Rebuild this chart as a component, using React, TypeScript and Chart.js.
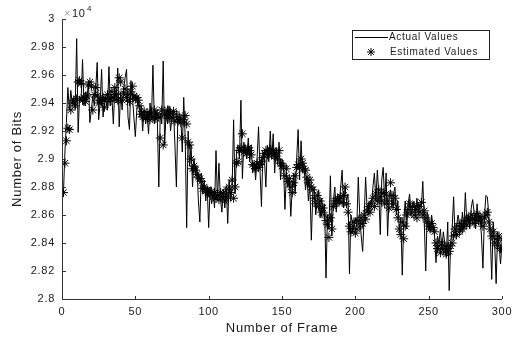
import React, { useEffect, useRef } from 'react';
import { Chart, registerables } from 'chart.js';

Chart.register(...registerables);

const seriesLabels: string[] = ['Actual Values', 'Estimated Values'];
const xTitle = 'Number of Frame';
const yTitle = 'Number of Bits';
const yExponent = '4';

const actualValues: number[] = [
  2.876, 2.905, 2.926, 2.951, 2.935, 2.949, 2.940, 2.944, 2.936, 2.986,
  2.919, 2.945, 2.941, 2.971, 2.938, 2.948, 2.942, 2.955, 2.926, 2.935,
  2.945, 2.938, 2.950, 2.969, 2.928, 2.940, 2.964, 2.930, 2.944, 2.941,
  2.935, 2.966, 2.938, 2.945, 2.925, 2.950, 2.940, 2.965, 2.923, 2.948,
  2.935, 2.950, 2.958, 2.964, 2.930, 2.921, 2.956, 2.945, 2.930, 2.916,
  2.935, 2.945, 2.930, 2.938, 2.920, 2.935, 2.925, 2.932, 2.918, 2.940,
  2.928, 2.967, 2.925, 2.935, 2.928, 2.880, 2.933, 2.925, 2.970, 2.910,
  2.935, 2.925, 2.938, 2.920, 2.930, 2.935, 2.910, 2.880, 2.930, 2.925,
  2.930, 2.905, 2.944, 2.915, 2.851, 2.920, 2.895, 2.910, 2.880, 2.900,
  2.888, 2.895, 2.870, 2.855, 2.890, 2.875, 2.885, 2.870, 2.880, 2.851,
  2.880, 2.868, 2.876, 2.865, 2.906, 2.870, 2.897, 2.872, 2.862, 2.878,
  2.865, 2.880, 2.854, 2.885, 2.870, 2.880, 2.928, 2.875, 2.905, 2.910,
  2.900, 2.942, 2.886, 2.912, 2.905, 2.900, 2.915, 2.898, 2.910, 2.890,
  2.898, 2.885, 2.900, 2.923, 2.892, 2.866, 2.905, 2.900, 2.880, 2.910,
  2.898, 2.920, 2.900, 2.918, 2.890, 2.908, 2.896, 2.912, 2.885, 2.900,
  2.896, 2.864, 2.890, 2.880, 2.885, 2.859, 2.880, 2.890, 2.875, 2.900,
  2.921, 2.885, 2.913, 2.890, 2.897, 2.878, 2.888, 2.870, 2.882, 2.842,
  2.875, 2.880, 2.860, 2.870, 2.878, 2.858, 2.872, 2.862, 2.868, 2.815,
  2.860, 2.850, 2.888, 2.845, 2.870, 2.880, 2.862, 2.875, 2.868, 2.880,
  2.892, 2.865, 2.880, 2.870, 2.875, 2.818, 2.860, 2.855, 2.850, 2.858,
  2.852, 2.887, 2.860, 2.845, 2.834, 2.858, 2.887, 2.865, 2.860, 2.870,
  2.865, 2.880, 2.890, 2.870, 2.892, 2.875, 2.846, 2.885, 2.894, 2.870,
  2.890, 2.845, 2.872, 2.878, 2.865, 2.875, 2.880, 2.860, 2.870, 2.848,
  2.858, 2.817, 2.855, 2.870, 2.850, 2.868, 2.875, 2.860, 2.865, 2.870,
  2.858, 2.872, 2.860, 2.868, 2.865, 2.884, 2.855, 2.820, 2.862, 2.858,
  2.848, 2.860, 2.852, 2.845, 2.826, 2.845, 2.840, 2.850, 2.835, 2.848,
  2.840, 2.830, 2.855, 2.806, 2.840, 2.850, 2.873, 2.845, 2.852, 2.860,
  2.855, 2.848, 2.862, 2.850, 2.876, 2.855, 2.860, 2.850, 2.865, 2.871,
  2.862, 2.850, 2.868, 2.855, 2.860, 2.845, 2.822, 2.858, 2.874, 2.873,
  2.860, 2.845, 2.814, 2.855, 2.840, 2.811, 2.848, 2.838, 2.825, 2.840,
];

const estimatedValues: number[] = [
  2.876, 2.897, 2.913, 2.922, 2.921, 2.935, 2.940, 2.942, 2.938, 2.943,
  2.955, 2.956, 2.954, 2.942, 2.944, 2.941, 2.945, 2.953, 2.955, 2.952,
  2.935, 2.946, 2.951, 2.945, 2.940, 2.942, 2.941, 2.944, 2.937, 2.943,
  2.946, 2.941, 2.943, 2.948, 2.944, 2.951, 2.946, 2.942, 2.958, 2.955,
  2.942, 2.947, 2.950, 2.944, 2.946, 2.941, 2.948, 2.952, 2.945, 2.943,
  2.944, 2.942, 2.938, 2.932, 2.930, 2.934, 2.929, 2.933, 2.931, 2.928,
  2.933, 2.930, 2.935, 2.929, 2.932, 2.930, 2.915, 2.935, 2.910, 2.932,
  2.931, 2.935, 2.929, 2.933, 2.930, 2.934, 2.927, 2.932, 2.928, 2.930,
  2.926, 2.915, 2.928, 2.931, 2.925, 2.912, 2.910, 2.900, 2.893, 2.895,
  2.892, 2.889, 2.887, 2.886, 2.884, 2.879, 2.880, 2.877, 2.878, 2.876,
  2.875, 2.877, 2.873, 2.876, 2.872, 2.874, 2.871, 2.876, 2.873, 2.875,
  2.870, 2.878, 2.873, 2.880, 2.876, 2.885, 2.872, 2.880, 2.897, 2.898,
  2.906, 2.908, 2.918, 2.905, 2.907, 2.904, 2.908, 2.906, 2.903, 2.896,
  2.895, 2.893, 2.897, 2.894, 2.896, 2.898, 2.901, 2.904, 2.906, 2.903,
  2.905, 2.907, 2.903, 2.906, 2.902, 2.904, 2.900, 2.906, 2.897, 2.895,
  2.895, 2.888, 2.893, 2.884, 2.886, 2.880, 2.876, 2.883, 2.888, 2.894,
  2.896, 2.894, 2.900, 2.897, 2.893, 2.892, 2.887, 2.883, 2.885, 2.880,
  2.878, 2.872, 2.868, 2.874, 2.866, 2.870, 2.862, 2.865, 2.860, 2.856,
  2.853, 2.844, 2.858, 2.850, 2.866, 2.870, 2.868, 2.872, 2.870, 2.873,
  2.869, 2.874, 2.880, 2.868, 2.862, 2.852, 2.848, 2.850, 2.855, 2.847,
  2.850, 2.856, 2.852, 2.858, 2.854, 2.860, 2.857, 2.863, 2.866, 2.862,
  2.868, 2.872, 2.866, 2.875, 2.870, 2.878, 2.873, 2.870, 2.876, 2.868,
  2.875, 2.870, 2.865, 2.883, 2.874, 2.868, 2.872, 2.864, 2.858, 2.850,
  2.846, 2.855, 2.843, 2.852, 2.860, 2.864, 2.868, 2.862, 2.866, 2.860,
  2.864, 2.858, 2.866, 2.862, 2.869, 2.860, 2.863, 2.858, 2.855, 2.852,
  2.850, 2.854, 2.851, 2.848, 2.840, 2.836, 2.838, 2.833, 2.840, 2.835,
  2.838, 2.832, 2.836, 2.834, 2.838, 2.840, 2.845, 2.850, 2.846, 2.852,
  2.848, 2.854, 2.850, 2.852, 2.856, 2.853, 2.858, 2.855, 2.860, 2.857,
  2.854, 2.858, 2.861, 2.856, 2.859, 2.855, 2.852, 2.858, 2.860, 2.862,
  2.855, 2.850, 2.845, 2.848, 2.840, 2.843, 2.838, 2.845, 2.836, 2.842,
];

const frames: number[] = actualValues.map((_, i) => i + 1);

const FONT = "'Liberation Sans', Arial, sans-serif";
const INK = '#1a1a1a';
const AXIS = '#333333';

const matlabAxes = {
  id: 'matlabAxes',
  beforeDraw(chart: any) {
    const ctx = chart.ctx as any;
    if ('letterSpacing' in ctx) ctx.letterSpacing = '0.7px';
  },
  afterDraw(chart: any) {
    const ctx = chart.ctx as any;
    const { left, right, top, bottom } = chart.chartArea;
    const xs = chart.scales.x;
    const ys = chart.scales.y;
    ctx.save();
    ctx.strokeStyle = AXIS;
    ctx.lineWidth = 1;
    ctx.beginPath();
    ctx.moveTo(Math.round(left) + 0.5, top);
    ctx.lineTo(Math.round(left) + 0.5, Math.round(bottom) + 0.5);
    ctx.lineTo(right, Math.round(bottom) + 0.5);
    xs.ticks.forEach((t: any) => {
      const px = Math.round(xs.getPixelForValue(t.value)) + 0.5;
      ctx.moveTo(px, Math.round(bottom));
      ctx.lineTo(px, Math.round(bottom) - 3);
    });
    ys.ticks.forEach((t: any) => {
      const py = Math.round(ys.getPixelForValue(t.value)) + 0.5;
      ctx.moveTo(Math.round(left), py);
      ctx.lineTo(Math.round(left) + 4, py);
    });
    ctx.stroke();

    ctx.fillStyle = '#9a9a9a';
    ctx.font = `11px ${FONT}`;
    ctx.textBaseline = 'alphabetic';
    ctx.textAlign = 'left';
    ctx.fillText('\u00d7', left + 2, top - 2);
    ctx.fillStyle = INK;
    ctx.fillText('10', left + 10, top - 2);
    ctx.font = `8px ${FONT}`;
    ctx.fillText(yExponent, left + 25, top - 8);

    const bx = 352.5, by = 30.5, bw = 137, bh = 29;
    ctx.fillStyle = '#ffffff';
    ctx.fillRect(bx, by, bw, bh);
    ctx.strokeStyle = '#222';
    ctx.strokeRect(bx, by, bw, bh);
    const ds = chart.data.datasets;
    ctx.beginPath();
    ctx.strokeStyle = '#000';
    ctx.moveTo(355, 37.5);
    ctx.lineTo(388, 37.5);
    ctx.stroke();
    const cx = 371, cy = 52, r = 4;
    ctx.beginPath();
    ctx.moveTo(cx - r, cy); ctx.lineTo(cx + r, cy);
    ctx.moveTo(cx, cy - r); ctx.lineTo(cx, cy + r);
    const d = r * 0.7071;
    ctx.moveTo(cx - d, cy - d); ctx.lineTo(cx + d, cy + d);
    ctx.moveTo(cx - d, cy + d); ctx.lineTo(cx + d, cy - d);
    ctx.stroke();
    ctx.fillStyle = INK;
    ctx.font = `10px ${FONT}`;
    ctx.textBaseline = 'middle';
    ctx.fillText(ds[0].label, 389, 37.5);
    ctx.fillText(ds[1].label, 390, 52);
    ctx.restore();
  },
};

export default function App() {
  const ref = useRef<HTMLCanvasElement | null>(null);
  useEffect(() => {
    if (!ref.current) return;
    const chart = new Chart(ref.current, {
      type: 'line',
      data: {
        datasets: [
          {
            label: seriesLabels[0],
            data: frames.map((f, i) => ({ x: f, y: actualValues[i] })),
            borderColor: '#000000',
            borderWidth: 1,
            pointRadius: 0,
            tension: 0,
            fill: false,
          },
          {
            label: seriesLabels[1],
            data: frames.map((f, i) => ({ x: f, y: estimatedValues[i] })),
            showLine: false,
            pointStyle: 'star',
            pointRadius: 4.5,
            pointBorderWidth: 1,
            borderColor: '#000000',
            backgroundColor: '#000000',
            pointBorderColor: '#000000',
          },
        ],
      },
      options: {
        animation: false,
        responsive: false,
        devicePixelRatio: 1,
        layout: { padding: { top: 19, right: 17, left: 0, bottom: 0 } },
        plugins: { legend: { display: false }, tooltip: { enabled: false } },
        scales: {
          x: {
            type: 'linear',
            min: 0,
            max: 300,
            grid: { display: false, drawTicks: false },
            border: { display: false },
            ticks: {
              stepSize: 50,
              padding: 6,
              color: INK,
              font: { family: FONT, size: 11 },
              maxRotation: 0,
            },
            title: {
              display: true,
              text: xTitle,
              color: INK,
              font: { family: FONT, size: 13 },
              padding: { top: 0, bottom: 1 },
            },
            afterFit: (s: any) => { s.height = 38; },
          },
          y: {
            type: 'linear',
            min: 2.8,
            max: 3.0,
            grid: { display: false, drawTicks: false },
            border: { display: false },
            ticks: {
              stepSize: 0.02,
              padding: 7,
              color: INK,
              font: { family: FONT, size: 11 },
              callback: (v: any) => String(Number(Number(v).toFixed(2))),
            },
            title: {
              display: true,
              text: yTitle,
              color: INK,
              font: { family: FONT, size: 13 },
              padding: { top: 10, bottom: 0 },
            },
            afterFit: (s: any) => { s.width = 62; },
          },
        },
      },
      plugins: [matlabAxes],
    });
    return () => chart.destroy();
  }, []);
  return (
    <div style={{ position: 'fixed', left: 0, top: 0, width: 519, height: 337, background: '#fff' }}>
      <canvas ref={ref} width={519} height={337} />
    </div>
  );
}
